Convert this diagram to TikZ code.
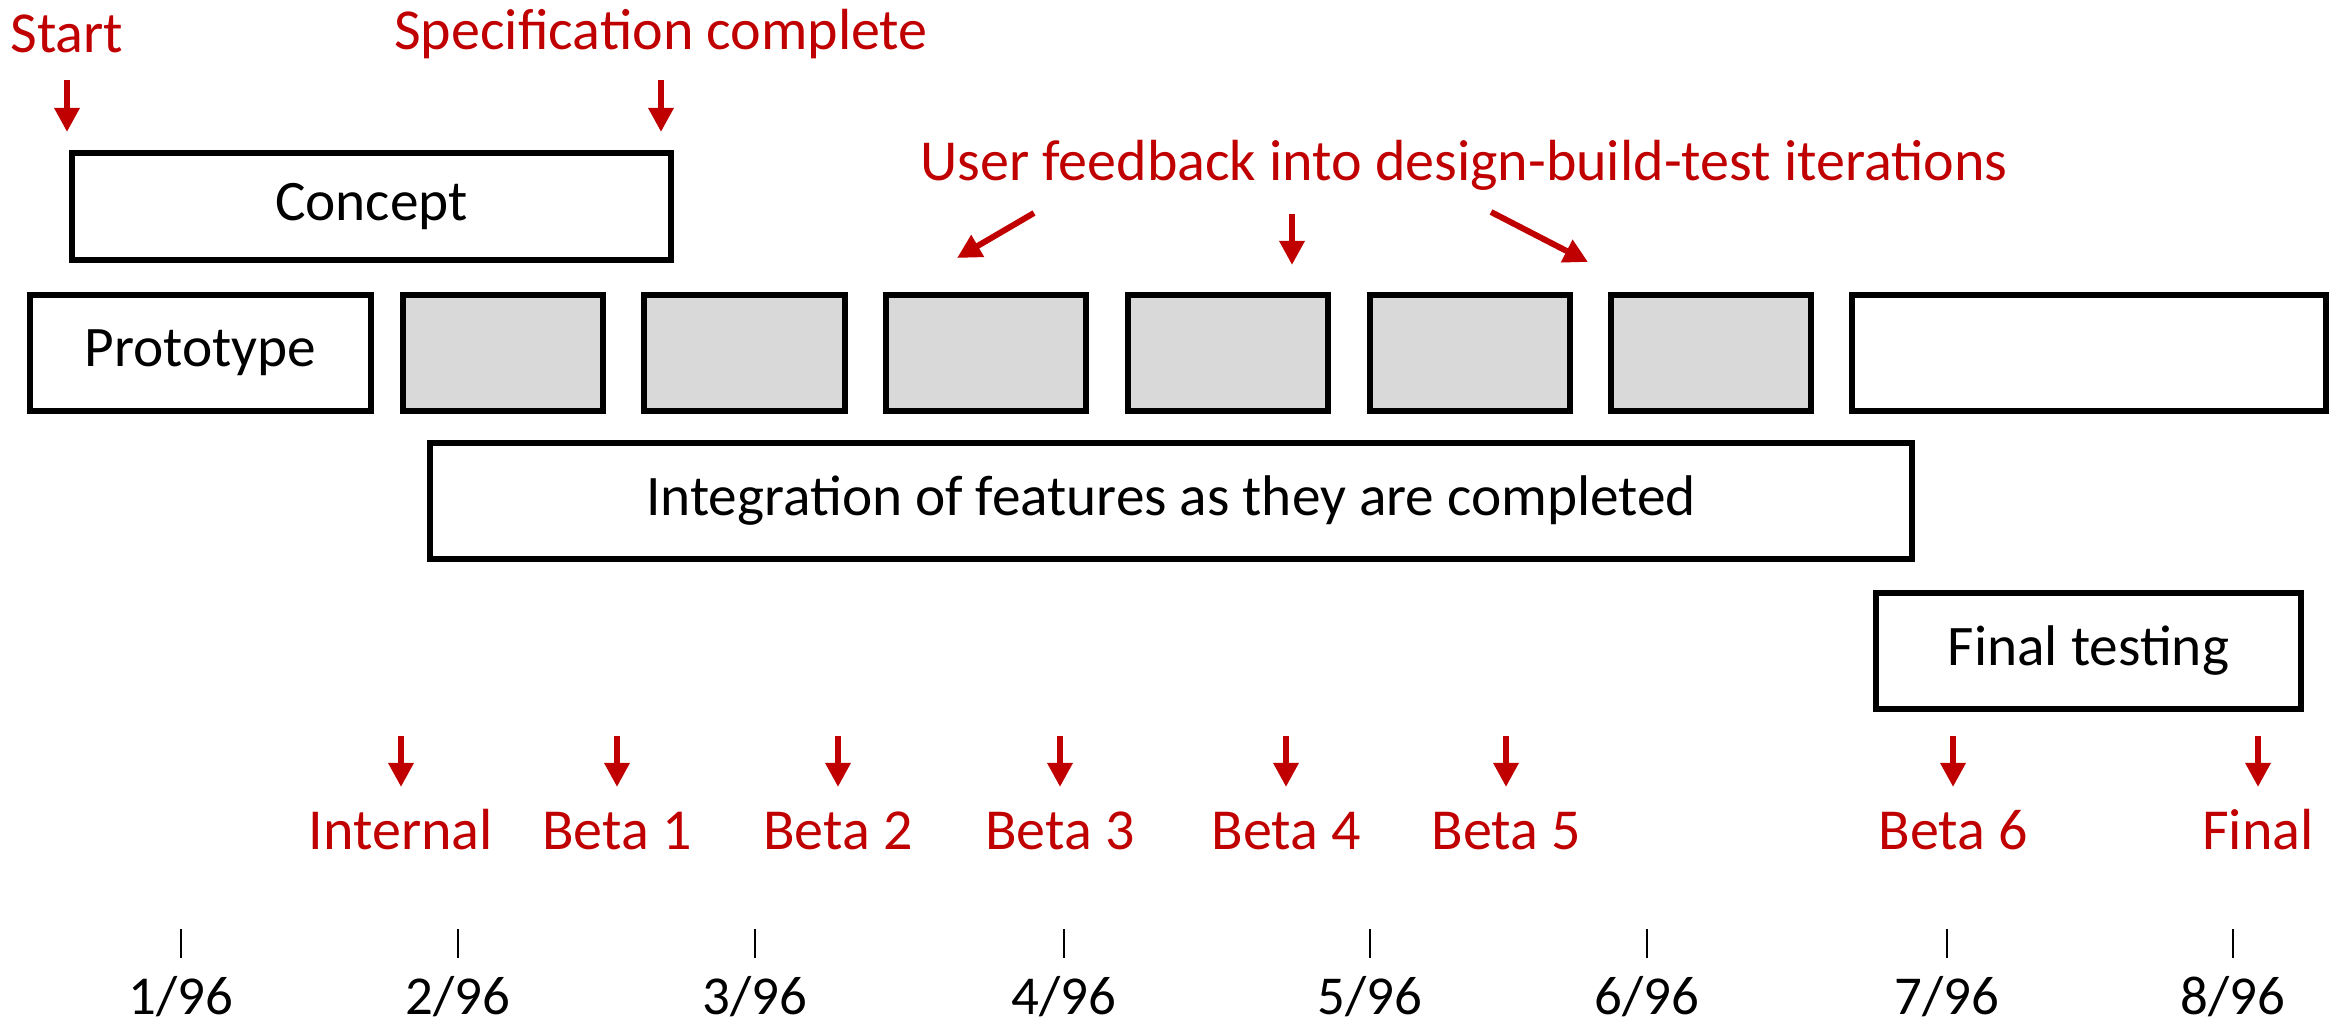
\documentclass[tikz,border=0pt]{standalone}
\usepackage{fontspec}
\setmainfont{Carlito}
\usetikzlibrary{arrows.meta}
\definecolor{flagred}{HTML}{C00000}
\definecolor{iterfill}{HTML}{D9D9D9}

\begin{document}
\begin{tikzpicture}[x=0.01cm, y=-0.01cm,
    every node/.style={font=\fontsize{16.3}{19}\selectfont},
    box/.style={draw, line width=1.7pt, inner sep=0pt},
    iter/.style={box, fill=iterfill, minimum width=2cm, minimum height=1.16cm},
    redtext/.style={text=flagred, anchor=base, inner sep=0pt, font=\fontsize{16.5}{19}\selectfont},
    flag/.style={draw=flagred, line width=1.7pt, -{Triangle[length=0.24cm, width=0.24cm]}},
    tickline/.style={line width=0.6pt},
    month/.style={anchor=base, inner sep=0pt, font=\fontsize{15.6}{18}\selectfont}]
  \useasboundingbox (0,0) rectangle (2346,1024);

  % phases
  \node[box, minimum width=5.99cm, minimum height=1.07cm] (concept) at (371.5,206.5) {Concept};
  \node[box, minimum width=3.41cm, minimum height=1.16cm] (proto) at (200.5,353) {Prototype};
  \foreach \x [count=\i] in {503,744.5,986,1228,1470,1711}
    \node[iter] (iter\i) at (\x,353) {};
  \node[box, minimum width=4.74cm, minimum height=1.16cm] (last) at (2089,353) {};
  \node[box, minimum width=14.82cm, minimum height=1.16cm] (integ) at (1171,501)
    {Integration of features as they are completed};
  \node[box, minimum width=4.25cm, minimum height=1.16cm] (final) at (2088.5,651) {Final testing};

  % top markers
  \node[redtext] (start) at (67,52) {Start};
  \node[redtext] (spec) at (661,49) {Specification complete};
  \coordinate (startA) at (67,80);   \coordinate (startB) at (67,132);
  \coordinate (specA) at (661,80);   \coordinate (specB) at (661,132);
  \draw[flag] (startA) -- (startB);
  \draw[flag] (specA) -- (specB);

  \node[redtext] (feedback) at (1464,180) {User feedback into design-build-test iterations};
  \coordinate (fbA1) at (1034,213);  \coordinate (fbB1) at (957,258);
  \coordinate (fbA2) at (1292,214);  \coordinate (fbB2) at (1292,265);
  \coordinate (fbA3) at (1491,212);  \coordinate (fbB3) at (1588,262);
  \foreach \i in {1,2,3}
    \draw[flag] (fbA\i) -- (fbB\i);

  % releases
  \foreach \x/\t/\n in {401/Internal/int, 617/Beta 1/b1, 838/Beta 2/b2, 1060/Beta 3/b3,
                        1286/Beta 4/b4, 1506/Beta 5/b5, 1953/Beta 6/b6, 2258/Final/fin} {
    \node[redtext] (rel-\n) at (\x,849) {\t};
    \coordinate (relA-\n) at (\x,736);
    \coordinate (relB-\n) at (\x,787);
    \draw[flag] (relA-\n) -- (relB-\n);
  }

  % time axis
  \foreach \x [count=\m] in {181,458,755,1064,1370,1647,1947,2233} {
    \coordinate (tkA\m) at (\x,929);
    \coordinate (tkB\m) at (\x,958);
    \draw[tickline] (tkA\m) -- (tkB\m);
    \node[month] (month\m) at (\x,1014) {\m/96};
  }
\end{tikzpicture}
\end{document}
